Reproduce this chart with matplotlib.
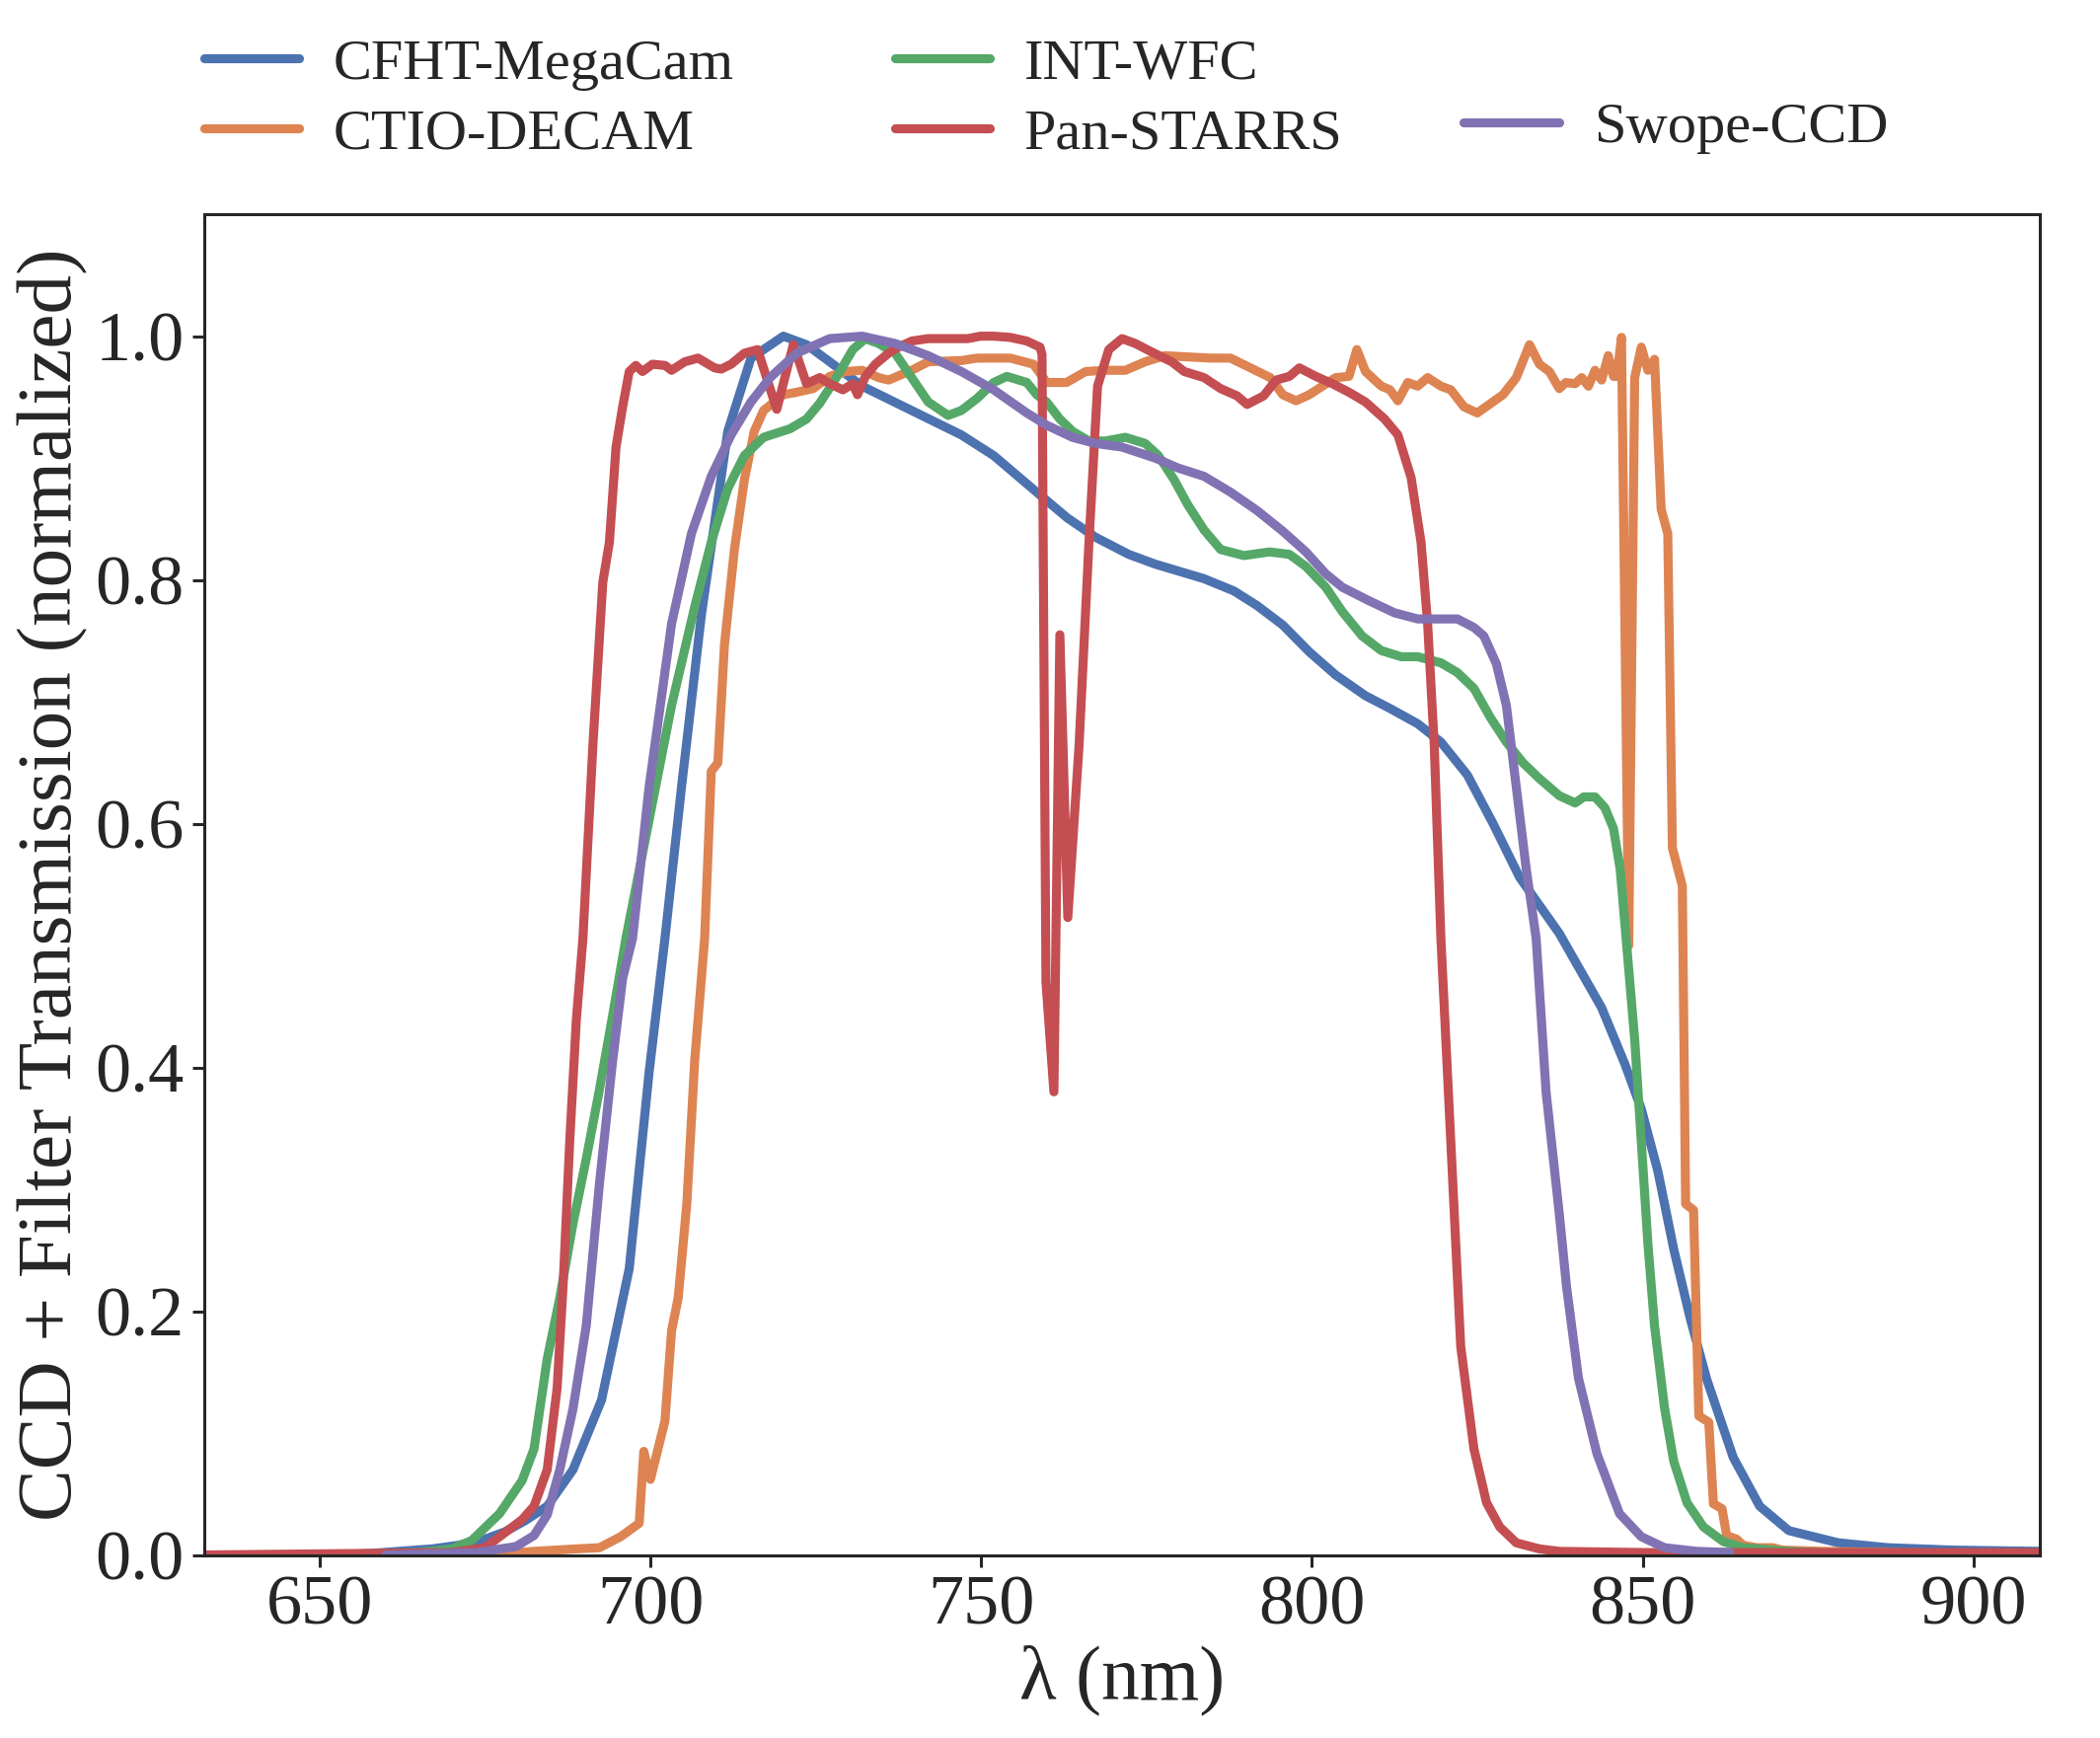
import matplotlib
matplotlib.use("Agg")
import matplotlib.pyplot as plt

# Filter curves (wavelength in nm, normalized transmission)
cfht_wl = [632.5, 650, 657, 662, 667, 671, 675, 678, 681, 684.4, 688.3, 692.6, 696.8, 699.8,
           702.2, 704.7, 707.7, 711.7, 715.2, 720.1, 723.6, 727.1, 732.0, 739.5, 747.0, 751.9,
           758.4, 763.0, 767.3, 772.3, 776.3, 783.7, 788.2, 791.7, 795.6, 799.6, 803.6, 808.1,
           812.0, 816.0, 819.5, 823.5, 827.4, 831.4, 837.4, 843.8, 847.3, 849.8, 852.3, 854.7,
           857.2, 859.7, 863.7, 867.7, 872.1, 879.6, 887.0, 897.0, 910.0]
cfht_tr = [0.0, 0.0, 0.001, 0.003, 0.005, 0.008, 0.013, 0.019, 0.028, 0.040, 0.070, 0.127, 0.235,
           0.396, 0.506, 0.630, 0.771, 0.922, 0.982, 1.0, 0.993, 0.979, 0.959, 0.939, 0.919, 0.902,
           0.872, 0.851, 0.835, 0.821, 0.813, 0.801, 0.791, 0.779, 0.763, 0.741, 0.722, 0.705,
           0.694, 0.682, 0.667, 0.640, 0.600, 0.556, 0.510, 0.449, 0.403, 0.366, 0.315, 0.251,
           0.194, 0.144, 0.080, 0.040, 0.020, 0.010, 0.006, 0.004, 0.003]

ctio_wl = [632.5, 670, 680, 682.4, 688.8, 692.3, 695.5, 698.3, 699.0, 700.0, 702.2, 703.2, 704.2,
           705.5, 706.7, 708.2, 709.2, 710.2, 711.2, 712.7, 714.2, 715.7, 717.1, 720.1, 722.1,
           724.6, 727.1, 729.6, 732.0, 734.5, 736.0, 739.5, 742.0, 747.0, 749.4, 754.4, 757.9,
           759.9, 762.9, 765.8, 768.8, 771.8, 774.8, 777.8, 781.2, 784.7, 787.7, 790.7, 793.7,
           795.6, 797.6, 799.6, 803.6, 805.6, 806.8, 808.1, 810.5, 811.8, 813.0, 814.5, 816.0,
           817.5, 819.5, 821.0, 823.0, 825.0, 828.9, 830.9, 832.9, 834.4, 835.9, 837.4, 838.4,
           839.8, 840.8, 841.8, 842.8, 843.8, 844.8, 845.6, 846.1, 846.8, 847.9, 848.8, 849.8,
           850.8, 851.8, 852.8, 853.8, 854.5, 856.0, 856.5, 857.7, 858.5, 860.0, 860.7, 862.0,
           862.7, 864.2, 865.2, 867.2, 869.7, 871.1, 877.1, 910.0]
ctio_tr = [0.0, 0.0, 0.002, 0.003, 0.005, 0.006, 0.015, 0.026, 0.085, 0.062, 0.110, 0.184, 0.211,
           0.288, 0.406, 0.506, 0.643, 0.650, 0.747, 0.825, 0.882, 0.922, 0.939, 0.952, 0.954,
           0.957, 0.967, 0.971, 0.972, 0.966, 0.964, 0.972, 0.979, 0.980, 0.982, 0.982, 0.977,
           0.962, 0.962, 0.971, 0.972, 0.972, 0.979, 0.984, 0.983, 0.982, 0.982, 0.974, 0.966,
           0.952, 0.947, 0.952, 0.966, 0.967, 0.989, 0.971, 0.959, 0.956, 0.947, 0.962, 0.959,
           0.966, 0.959, 0.956, 0.942, 0.937, 0.952, 0.966, 0.993, 0.977, 0.971, 0.957, 0.962,
           0.961, 0.966, 0.959, 0.972, 0.964, 0.984, 0.967, 0.967, 0.999, 0.500, 0.966, 0.991,
           0.972, 0.981, 0.858, 0.838, 0.580, 0.549, 0.288, 0.283, 0.114, 0.109, 0.042, 0.038,
           0.016, 0.013, 0.008, 0.006, 0.006, 0.004, 0.003, 0.0]

int_wl = [650, 665, 670, 673, 677.2, 680.6, 682.4, 684.4, 686.3, 688.3, 690.3, 692.3, 694.3,
          696.3, 699.8, 703.2, 706.7, 709.2, 711.7, 714.2, 717.1, 721.1, 723.6, 725.6, 728.1,
          730.6, 732.5, 734.5, 737.0, 739.5, 742.0, 745.0, 747.0, 749.4, 751.9, 753.9, 756.9,
          758.4, 759.9, 761.9, 763.8, 766.3, 768.8, 771.8, 774.8, 776.8, 779.2, 781.2, 783.7,
          786.2, 789.7, 793.6, 796.6, 799.1, 802.1, 804.6, 807.6, 810.5, 813.5, 816.0, 819.5,
          822.0, 824.5, 827.0, 829.4, 831.9, 834.4, 837.4, 839.8, 841.1, 842.8, 844.3, 845.6,
          846.6, 847.5, 848.8, 849.8, 850.8, 851.8, 853.3, 854.7, 856.7, 859.2, 862.2, 865.2,
          872.1, 880.0]
int_tr = [0.0, 0.002, 0.005, 0.012, 0.034, 0.061, 0.087, 0.161, 0.211, 0.272, 0.325, 0.382, 0.443,
          0.506, 0.603, 0.697, 0.778, 0.831, 0.875, 0.902, 0.917, 0.924, 0.932, 0.945, 0.966,
          0.989, 0.998, 0.994, 0.986, 0.966, 0.946, 0.935, 0.939, 0.949, 0.962, 0.967, 0.962,
          0.952, 0.946, 0.932, 0.922, 0.914, 0.914, 0.917, 0.912, 0.902, 0.882, 0.862, 0.841,
          0.825, 0.820, 0.823, 0.821, 0.811, 0.794, 0.774, 0.754, 0.742, 0.737, 0.737, 0.732,
          0.724, 0.711, 0.687, 0.667, 0.650, 0.637, 0.623, 0.617, 0.622, 0.622, 0.613, 0.596,
          0.563, 0.506, 0.423, 0.339, 0.255, 0.188, 0.121, 0.077, 0.043, 0.023, 0.011, 0.006,
          0.003, 0.001]

ps_wl = [632.5, 670, 675, 677.2, 680.6, 682.4, 684.4, 685.9, 686.8, 687.8, 688.8, 689.8, 691.3,
         692.8, 693.8, 694.8, 695.8, 696.8, 697.8, 698.8, 700.3, 702.2, 703.2, 705.2, 707.2,
         709.7, 710.7, 712.2, 714.2, 716.2, 719.1, 721.6, 723.6, 725.6, 727.1, 729.1, 730.6,
         731.3, 732.5, 734.0, 736.0, 737.5, 739.5, 742.0, 748.0, 749.9, 751.9, 754.4, 756.9,
         758.9, 759.2, 759.8, 761.0, 761.9, 763.1, 764.8, 766.3, 767.6, 769.3, 771.3, 773.3,
         775.8, 778.8, 780.7, 783.7, 786.2, 788.7, 790.2, 792.7, 794.6, 796.6, 798.1, 800.6,
         803.1, 805.6, 808.1, 811.0, 813.0, 815.0, 816.5, 817.5, 818.5, 819.5, 821.0, 822.5,
         824.5, 826.4, 828.4, 830.9, 834.4, 837.4, 850.0, 910.0]
ps_tr = [0.0, 0.002, 0.006, 0.015, 0.029, 0.040, 0.070, 0.137, 0.221, 0.339, 0.439, 0.506, 0.664,
         0.798, 0.831, 0.909, 0.942, 0.971, 0.976, 0.971, 0.977, 0.976, 0.972, 0.979, 0.982,
         0.974, 0.973, 0.977, 0.986, 0.989, 0.940, 0.993, 0.961, 0.966, 0.961, 0.956, 0.961,
         0.952, 0.967, 0.977, 0.986, 0.991, 0.996, 0.998, 0.998, 1.0, 1.0, 0.999, 0.996,
         0.991, 0.985, 0.470, 0.380, 0.755, 0.523, 0.664, 0.831, 0.959, 0.989, 0.998, 0.994,
         0.987, 0.979, 0.971, 0.966, 0.957, 0.951, 0.944, 0.951, 0.964, 0.967, 0.974, 0.967,
         0.961, 0.954, 0.946, 0.932, 0.919, 0.884, 0.831, 0.764, 0.664, 0.506, 0.339, 0.171,
         0.087, 0.043, 0.023, 0.010, 0.005, 0.003, 0.002, 0.002]

swope_wl = [660, 673.7, 679.7, 682.4, 684.4, 686.3, 688.3, 690.3, 692.3, 694.3, 695.8, 697.3,
            699.8, 703.2, 706.2, 709.2, 712.2, 715.2, 718.1, 722.1, 727.1, 732.0, 737.0, 742.0,
            747.0, 751.9, 756.9, 759.9, 763.8, 767.3, 771.3, 776.3, 779.7, 783.7, 787.7, 791.7,
            795.6, 799.1, 802.1, 804.6, 808.6, 812.5, 816.0, 822.0, 824.5, 826.0, 827.9, 829.4,
            830.9, 832.4, 833.9, 835.4, 837.4, 838.5, 840.3, 843.1, 846.5, 849.8, 853.3, 858.2,
            863.2]
swope_tr = [0.0, 0.002, 0.007, 0.016, 0.033, 0.070, 0.120, 0.188, 0.305, 0.406, 0.473, 0.506,
            0.630, 0.764, 0.838, 0.885, 0.919, 0.946, 0.966, 0.986, 0.998, 1.0, 0.994, 0.984,
            0.971, 0.956, 0.937, 0.927, 0.917, 0.912, 0.909, 0.900, 0.892, 0.885, 0.872, 0.857,
            0.840, 0.823, 0.805, 0.794, 0.783, 0.773, 0.768, 0.768, 0.761, 0.754, 0.731, 0.697,
            0.630, 0.563, 0.506, 0.380, 0.280, 0.220, 0.145, 0.083, 0.034, 0.015, 0.006, 0.003,
            0.002]

names = ["CFHT-MegaCam", "CTIO-DECAM", "INT-WFC", "Pan-STARRS", "Swope-CCD"]
colors = ["#4C72B0", "#DD8452", "#55A868", "#C44E52", "#8172B3"]

plt.rcParams["font.family"] = ["Liberation Serif", "DejaVu Serif"]
plt.rcParams["text.color"] = ".15"
plt.rcParams["axes.labelcolor"] = ".15"

fig = plt.figure(figsize=(10.64, 8.805), dpi=200)
ax = fig.add_axes([0.0971, 0.1053, 0.8741, 0.7714])

curves = [(cfht_wl, cfht_tr), (ctio_wl, ctio_tr), (int_wl, int_tr), (ps_wl, ps_tr), (swope_wl, swope_tr)]
lines = []
for (wl, tr), name, c in zip(curves, names, colors):
    (ln,) = ax.plot(wl, tr, color=c, lw=3.3, label=name, solid_capstyle="round")
    lines.append(ln)

ax.set_xlim(632.5, 910)
ax.set_ylim(0, 1.1)
ax.set_xticks([650, 700, 750, 800, 850, 900])
ax.set_yticks([0.0, 0.2, 0.4, 0.6, 0.8, 1.0])
ax.set_yticklabels(["0.0", "0.2", "0.4", "0.6", "0.8", "1.0"])

for s in ax.spines.values():
    s.set_color(".15")
    s.set_linewidth(1.1)
ax.tick_params(axis="both", direction="out", length=4.2, width=1.1, color=".15",
               labelcolor=".15", labelsize=26, pad=3)

ax.set_xlabel("λ (nm)", fontsize=28, labelpad=2)
ax.set_ylabel("CCD + Filter Transmission (normalized)", fontsize=28.5, labelpad=2.5)

# legend laid out as three columns above the axes, Swope-CCD alone on the second row
leg_kw = dict(loc="lower left", frameon=False, fontsize=21, borderpad=0, borderaxespad=0,
              handlelength=1.65, handletextpad=0.6, labelspacing=0.31)
col_x = [0.0, 0.3763, 0.6864]
leg1 = ax.legend(lines[0:2], names[0:2], bbox_to_anchor=(col_x[0], 1.04), **leg_kw)
ax.add_artist(leg1)
leg2 = ax.legend(lines[2:4], names[2:4], bbox_to_anchor=(col_x[1], 1.04), **leg_kw)
ax.add_artist(leg2)
ax.legend(lines[4:5], names[4:5], bbox_to_anchor=(col_x[2], 1.045), **leg_kw)

fig.savefig("out.png", dpi=200)
